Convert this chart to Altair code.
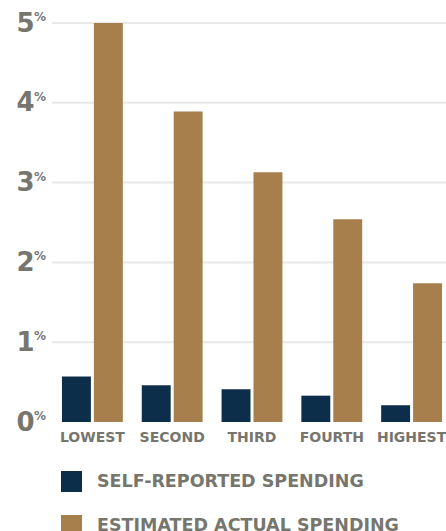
import altair as alt
import pandas as pd

quintiles = ["LOWEST", "SECOND", "THIRD", "FOURTH", "HIGHEST"]
series = ["SELF-REPORTED SPENDING", "ESTIMATED ACTUAL SPENDING"]
self_reported = [0.57, 0.46, 0.41, 0.33, 0.21]
estimated_actual = [5.00, 3.89, 3.13, 2.54, 1.74]
tick_values = [0, 1, 2, 3, 4, 5]
grid_values = [1, 2, 3, 4, 5]

NAVY = "#0c2e4b"
BROWN = "#a67f4c"
GRAY = "#76766f"
GRID = "#e8e8e8"
FONT = "DejaVu Sans"

rows = []
for q, a, b in zip(quintiles, self_reported, estimated_actual):
    rows.append({"q": q, "s": series[0], "v": a})
    rows.append({"q": q, "s": series[1], "v": b})
bars_df = pd.DataFrame(rows)
grid_df = pd.DataFrame({"g": grid_values})
pct_df = pd.DataFrame({"t": tick_values, "p": ["%"] * len(tick_values)})

yscale = alt.Scale(domain=[0, 5], nice=False)
yaxis = alt.Axis(
    title=None,
    values=tick_values,
    format="d",
    grid=False,
    ticks=False,
    domain=False,
    labelFont=FONT,
    labelFontWeight="bold",
    labelFontSize=26,
    labelColor=GRAY,
    labelPadding=18,
)

grid = alt.Chart(grid_df).mark_rule(color=GRID, strokeWidth=2).encode(
    y=alt.Y("g:Q", scale=yscale, axis=yaxis),
    x=alt.value(0),
    x2=alt.value(394),
)

bars = alt.Chart(bars_df).mark_bar().encode(
    x=alt.X(
        "q:N",
        sort=quintiles,
        scale=alt.Scale(paddingInner=0.2375, paddingOuter=0.0875, align=0.714),
        axis=alt.Axis(
            title=None,
            labelAngle=0,
            ticks=False,
            domain=False,
            labelFont=FONT,
            labelFontWeight="bold",
            labelFontSize=14,
            labelColor=GRAY,
            labelPadding=8,
        ),
    ),
    xOffset=alt.XOffset(
        "s:N", sort=series, scale=alt.Scale(paddingInner=0.09375, paddingOuter=0)
    ),
    y=alt.Y("v:Q", scale=yscale, axis=yaxis),
    color=alt.Color(
        "s:N",
        scale=alt.Scale(domain=series, range=[NAVY, BROWN]),
        legend=alt.Legend(
            title=None,
            orient="none",
            legendX=9,
            legendY=448,
            direction="vertical",
            symbolType="square",
            symbolSize=441,
            symbolStrokeWidth=0,
            symbolOpacity=1,
            labelFont=FONT,
            labelFontWeight="bold",
            labelFontSize=17.5,
            labelColor=GRAY,
            labelOffset=15,
            rowPadding=23,
            padding=0,
            labelLimit=400,
        ),
    ),
)

pct = alt.Chart(pct_df).mark_text(
    font=FONT, fontWeight="bold", fontSize=12, color=GRAY, align="left", baseline="middle", dy=-6
).encode(
    y=alt.Y("t:Q", scale=yscale, axis=yaxis),
    x=alt.value(-18),
    text="p:N",
)

chart = (
    alt.layer(grid, bars, pct)
    .properties(
        width=394,
        height=399,
        autosize=alt.AutoSizeParams(type="none"),
        padding={"left": 52, "top": 23, "right": 0, "bottom": 109},
    )
    .configure_view(stroke=None)
)

chart.save("out.html", embed_options={"renderer": "svg", "actions": False})
